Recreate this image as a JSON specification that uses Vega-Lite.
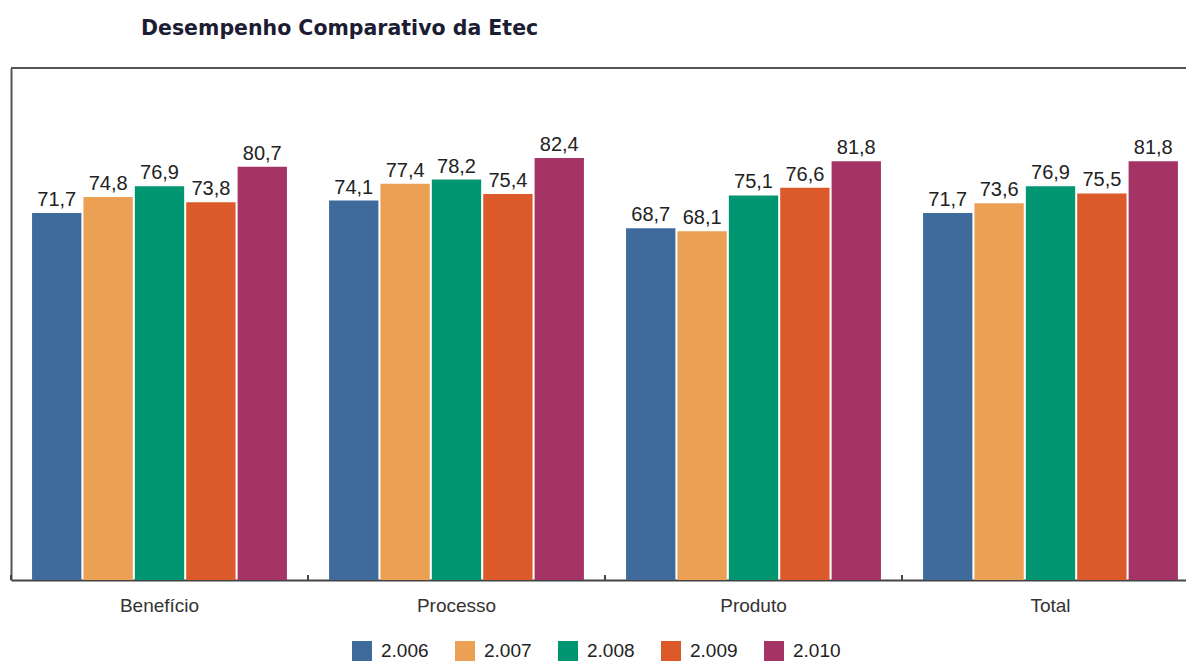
{
  "$schema": "https://vega.github.io/schema/vega-lite/v6.json",
  "width": 1176,
  "height": 512,
  "autosize": {"type": "none"},
  "padding": {"left": 11, "top": 68, "right": 0, "bottom": 82},
  "background": "white",
  "title": {
    "text": "Desempenho Comparativo da Etec",
    "anchor": "start",
    "frame": "group",
    "dx": 130,
    "offset": 12,
    "baseline": "alphabetic",
    "font": "DejaVu Sans",
    "fontSize": 20.5,
    "fontWeight": "bold",
    "color": "#1c1c33"
  },
  "config": {
    "view": {"stroke": null},
    "locale": {
      "number": {"decimal": ",", "thousands": ".", "grouping": [3], "currency": ["R$", ""]}
    }
  },
  "data": {
    "values": [
      {"Categoria": "Benefício", "Ano": "2.006", "Valor": 71.7},
      {"Categoria": "Benefício", "Ano": "2.007", "Valor": 74.8},
      {"Categoria": "Benefício", "Ano": "2.008", "Valor": 76.9},
      {"Categoria": "Benefício", "Ano": "2.009", "Valor": 73.8},
      {"Categoria": "Benefício", "Ano": "2.010", "Valor": 80.7},
      {"Categoria": "Processo", "Ano": "2.006", "Valor": 74.1},
      {"Categoria": "Processo", "Ano": "2.007", "Valor": 77.4},
      {"Categoria": "Processo", "Ano": "2.008", "Valor": 78.2},
      {"Categoria": "Processo", "Ano": "2.009", "Valor": 75.4},
      {"Categoria": "Processo", "Ano": "2.010", "Valor": 82.4},
      {"Categoria": "Produto", "Ano": "2.006", "Valor": 68.7},
      {"Categoria": "Produto", "Ano": "2.007", "Valor": 68.1},
      {"Categoria": "Produto", "Ano": "2.008", "Valor": 75.1},
      {"Categoria": "Produto", "Ano": "2.009", "Valor": 76.6},
      {"Categoria": "Produto", "Ano": "2.010", "Valor": 81.8},
      {"Categoria": "Total", "Ano": "2.006", "Valor": 71.7},
      {"Categoria": "Total", "Ano": "2.007", "Valor": 73.6},
      {"Categoria": "Total", "Ano": "2.008", "Valor": 76.9},
      {"Categoria": "Total", "Ano": "2.009", "Valor": 75.5},
      {"Categoria": "Total", "Ano": "2.010", "Valor": 81.8}
    ]
  },
  "layer": [
    {
      "mark": {"type": "bar"},
      "encoding": {
        "x": {
          "field": "Categoria",
          "type": "nominal",
          "sort": null,
          "title": null,
          "scale": {"domain": ["Benefício", "Processo", "Produto", "Total"], "range": [0, 1188], "paddingInner": 0, "paddingOuter": 0},
          "axis": {
            "domain": true,
            "domainColor": "#444444",
            "domainWidth": 2,
            "ticks": false,
            "tickSize": 0,
            "labelAngle": 0,
            "labelFont": "Liberation Sans",
            "labelFontSize": 19,
            "labelColor": "#333333",
            "labelPadding": 16,
            "grid": false
          }
        },
        "xOffset": {"field": "Ano", "type": "nominal", "scale": {"paddingInner": 0.04, "paddingOuter": 0.41}},
        "y": {
          "field": "Valor",
          "type": "quantitative",
          "scale": {"domain": [0, 100]},
          "axis": {"domain": true, "domainColor": "#555555", "domainWidth": 2, "ticks": false, "labels": false, "grid": false, "title": null}
        },
        "color": {
          "field": "Ano",
          "type": "nominal",
          "scale": {
            "domain": ["2.006", "2.007", "2.008", "2.009", "2.010"],
            "range": ["#3e6a9c", "#eba053", "#009672", "#dc5a29", "#a43465"]
          },
          "legend": {
            "orient": "none",
            "legendX": 341,
            "legendY": 573,
            "direction": "horizontal",
            "title": null,
            "symbolType": "square",
            "symbolSize": 400,
            "symbolStrokeWidth": 0,
            "labelFont": "Liberation Sans",
            "labelFontSize": 19,
            "labelColor": "#222222",
            "labelOffset": 9,
            "columnPadding": 26,
            "padding": 0
          }
        }
      }
    },
    {
      "mark": {"type": "text", "baseline": "alphabetic", "dy": -7, "font": "Liberation Sans", "fontSize": 20, "color": "#222222"},
      "encoding": {
        "x": {"field": "Categoria", "type": "nominal", "sort": null},
        "xOffset": {"field": "Ano", "type": "nominal", "scale": {"paddingInner": 0.04, "paddingOuter": 0.41}},
        "y": {"field": "Valor", "type": "quantitative"},
        "text": {"field": "Valor", "type": "quantitative", "format": ".1f"}
      }
    },
    {
      "mark": {"type": "rule", "color": "#444444", "strokeWidth": 2},
      "encoding": {
        "x": {"field": "Categoria", "type": "nominal", "sort": null, "bandPosition": 0},
        "y": {"datum": 0},
        "y2": {"datum": 1}
      }
    },
    {
      "mark": {"type": "rule", "color": "#555555", "strokeWidth": 2},
      "encoding": {
        "y": {"datum": 100}
      }
    }
  ]
}
